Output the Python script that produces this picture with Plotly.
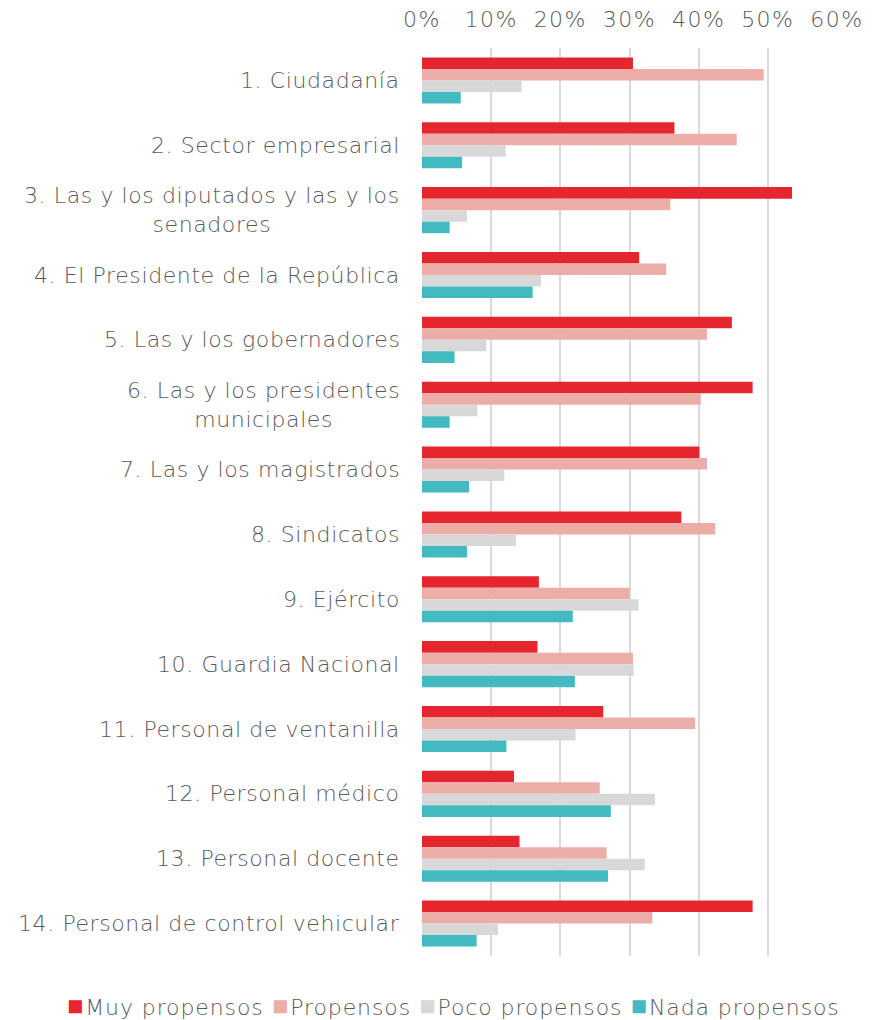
import plotly.graph_objects as go

categories = [
    "1. Ciudadanía",
    "2. Sector empresarial",
    "3. Las y los diputados y las y los<br>senadores",
    "4. El Presidente de la República",
    "5. Las y los gobernadores",
    "6. Las y los presidentes<br>municipales",
    "7. Las y los magistrados",
    "8. Sindicatos",
    "9. Ejército",
    "10. Guardia Nacional",
    "11. Personal de ventanilla",
    "12. Personal médico",
    "13. Personal docente",
    "14. Personal de control vehicular",
]

muy_propensos = [0.305, 0.365, 0.535, 0.314, 0.448, 0.478, 0.401, 0.375, 0.169, 0.167, 0.262, 0.133, 0.141, 0.478]
propensos = [0.494, 0.455, 0.359, 0.353, 0.412, 0.403, 0.412, 0.424, 0.300, 0.305, 0.395, 0.257, 0.267, 0.333]
poco_propensos = [0.144, 0.121, 0.065, 0.172, 0.093, 0.080, 0.119, 0.136, 0.313, 0.306, 0.222, 0.337, 0.322, 0.110]
nada_propensos = [0.056, 0.058, 0.040, 0.160, 0.047, 0.040, 0.068, 0.065, 0.218, 0.221, 0.122, 0.273, 0.269, 0.079]

series_names = ["Muy propensos", "Propensos", "Poco propensos", "Nada propensos"]
series_values = [muy_propensos, propensos, poco_propensos, nada_propensos]
series_colors = ["#E6262F", "#ECADA8", "#D9D8D8", "#43BAC0"]

x_ticks = [0, 0.1, 0.2, 0.3, 0.4, 0.5, 0.6]
x_tick_labels = ["0%", "10%", "20%", "30%", "40%", "50%", "60%"]

FONT = "DejaVu Sans"
WEIGHT = 200
TEXT_COLOR = "#595959"


def spaced(text, px=0.6):
    return "<br>".join(
        f'<span style="letter-spacing:{px}px">{line}</span>' for line in text.split("<br>")
    )


fig = go.Figure()
for name, vals, col in zip(series_names, series_values, series_colors):
    fig.add_trace(go.Bar(
        y=categories, x=vals, name=name, orientation="h",
        marker=dict(color=col, line=dict(width=0)),
        showlegend=False,
    ))

for cat in categories:
    fig.add_annotation(
        x=0, xref="paper", y=cat, yref="y", text=spaced(cat),
        xanchor="right", yanchor="middle", xshift=-20, align="center",
        showarrow=False,
        font=dict(family=FONT, size=22, color=TEXT_COLOR, weight=WEIGHT),
    )

# legend row built from the series names/colours
legend_parts = []
for name, col in zip(series_names, series_colors):
    legend_parts.append(
        f'<span style="color:{col};font-size:27px">■</span>'
        f'<span style="font-size:6px"> </span>'
        + spaced(name, 0.9)
    )
fig.add_annotation(
    x=0.077, xref="paper", y=-0.055, yref="paper",
    text='<span style="font-size:26px"> </span>'.join(legend_parts),
    xanchor="center", yanchor="middle",
    showarrow=False,
    font=dict(family=FONT, size=22, color=TEXT_COLOR, weight=WEIGHT),
)

fig.update_layout(
    width=876, height=1012,
    margin=dict(l=414, r=47, t=40, b=64),
    paper_bgcolor="white", plot_bgcolor="white",
    barmode="group", bargap=0.29, bargroupgap=0,
    font=dict(family=FONT, size=22, color=TEXT_COLOR, weight=WEIGHT),
    showlegend=False,
    xaxis=dict(
        side="top", range=[0, 0.6], tickvals=x_ticks,
        ticktext=[spaced(t, 1.5) for t in x_tick_labels],
        showgrid=True, gridcolor="#D9D9D9", gridwidth=2,
        zeroline=False, showline=False,
        ticks="outside", ticklen=11, tickcolor="rgba(0,0,0,0)",
        automargin=False,
        tickfont=dict(family=FONT, size=22, color=TEXT_COLOR, weight=WEIGHT),
    ),
    yaxis=dict(
        autorange="reversed", showticklabels=False, showgrid=False,
        zeroline=False, showline=False, ticks="", automargin=False,
    ),
)

fig.write_html("out.html")
